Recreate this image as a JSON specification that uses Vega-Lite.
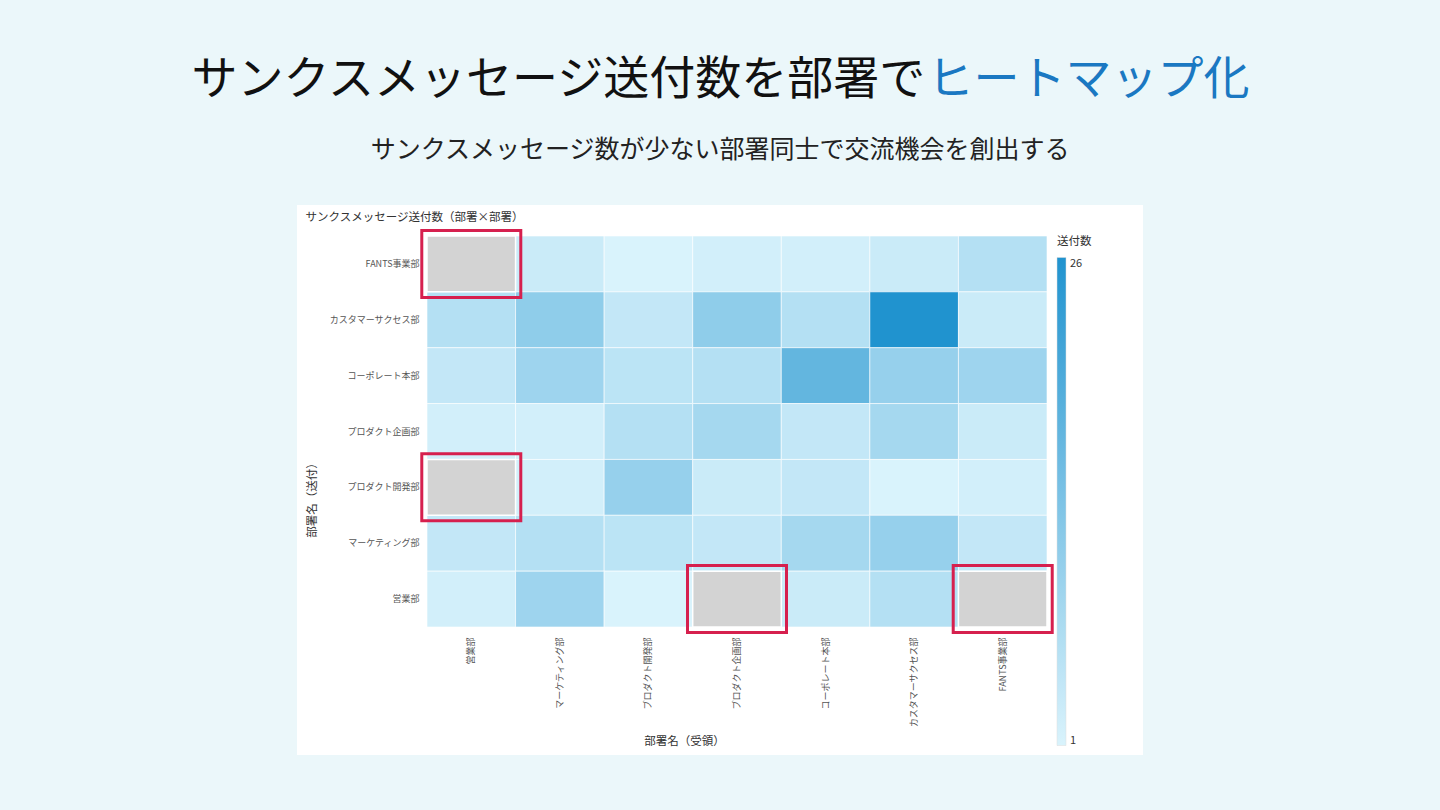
{
  "$schema": "https://vega.github.io/schema/vega-lite/v6.json",
  "width": 846,
  "height": 550,
  "autosize": "none",
  "padding": {"left": 297, "top": 205, "right": 297, "bottom": 55},
  "background": "#ebf7fa",
  "view": {"fill": "#ffffff", "stroke": null},
  "title": {
    "text": "サンクスメッセージ数が少ない部署同士で交流機会を創出する",
    "anchor": "middle",
    "frame": "group",
    "font": "Noto Sans CJK JP",
    "fontSize": 25,
    "fontWeight": "normal",
    "color": "#222222",
    "offset": -107
  },
  "data": {
    "values": [
      {"sender": "FANTS事業部", "receiver": "営業部", "count": null},
      {"sender": "FANTS事業部", "receiver": "マーケティング部", "count": 3},
      {"sender": "FANTS事業部", "receiver": "プロダクト開発部", "count": 1},
      {"sender": "FANTS事業部", "receiver": "プロダクト企画部", "count": 2},
      {"sender": "FANTS事業部", "receiver": "コーポレート本部", "count": 2},
      {"sender": "FANTS事業部", "receiver": "カスタマーサクセス部", "count": 3},
      {"sender": "FANTS事業部", "receiver": "FANTS事業部", "count": 6},
      {"sender": "カスタマーサクセス部", "receiver": "営業部", "count": 6},
      {"sender": "カスタマーサクセス部", "receiver": "マーケティング部", "count": 11},
      {"sender": "カスタマーサクセス部", "receiver": "プロダクト開発部", "count": 4},
      {"sender": "カスタマーサクセス部", "receiver": "プロダクト企画部", "count": 11},
      {"sender": "カスタマーサクセス部", "receiver": "コーポレート本部", "count": 6},
      {"sender": "カスタマーサクセス部", "receiver": "カスタマーサクセス部", "count": 26},
      {"sender": "カスタマーサクセス部", "receiver": "FANTS事業部", "count": 3},
      {"sender": "コーポレート本部", "receiver": "営業部", "count": 4},
      {"sender": "コーポレート本部", "receiver": "マーケティング部", "count": 9},
      {"sender": "コーポレート本部", "receiver": "プロダクト開発部", "count": 5},
      {"sender": "コーポレート本部", "receiver": "プロダクト企画部", "count": 6},
      {"sender": "コーポレート本部", "receiver": "コーポレート本部", "count": 17},
      {"sender": "コーポレート本部", "receiver": "カスタマーサクセス部", "count": 10},
      {"sender": "コーポレート本部", "receiver": "FANTS事業部", "count": 9},
      {"sender": "プロダクト企画部", "receiver": "営業部", "count": 2},
      {"sender": "プロダクト企画部", "receiver": "マーケティング部", "count": 2},
      {"sender": "プロダクト企画部", "receiver": "プロダクト開発部", "count": 6},
      {"sender": "プロダクト企画部", "receiver": "プロダクト企画部", "count": 8},
      {"sender": "プロダクト企画部", "receiver": "コーポレート本部", "count": 4},
      {"sender": "プロダクト企画部", "receiver": "カスタマーサクセス部", "count": 8},
      {"sender": "プロダクト企画部", "receiver": "FANTS事業部", "count": 3},
      {"sender": "プロダクト開発部", "receiver": "営業部", "count": null},
      {"sender": "プロダクト開発部", "receiver": "マーケティング部", "count": 2},
      {"sender": "プロダクト開発部", "receiver": "プロダクト開発部", "count": 10},
      {"sender": "プロダクト開発部", "receiver": "プロダクト企画部", "count": 3},
      {"sender": "プロダクト開発部", "receiver": "コーポレート本部", "count": 4},
      {"sender": "プロダクト開発部", "receiver": "カスタマーサクセス部", "count": 1},
      {"sender": "プロダクト開発部", "receiver": "FANTS事業部", "count": 2},
      {"sender": "マーケティング部", "receiver": "営業部", "count": 4},
      {"sender": "マーケティング部", "receiver": "マーケティング部", "count": 6},
      {"sender": "マーケティング部", "receiver": "プロダクト開発部", "count": 5},
      {"sender": "マーケティング部", "receiver": "プロダクト企画部", "count": 4},
      {"sender": "マーケティング部", "receiver": "コーポレート本部", "count": 8},
      {"sender": "マーケティング部", "receiver": "カスタマーサクセス部", "count": 10},
      {"sender": "マーケティング部", "receiver": "FANTS事業部", "count": 4},
      {"sender": "営業部", "receiver": "営業部", "count": 2},
      {"sender": "営業部", "receiver": "マーケティング部", "count": 9},
      {"sender": "営業部", "receiver": "プロダクト開発部", "count": 1},
      {"sender": "営業部", "receiver": "プロダクト企画部", "count": null},
      {"sender": "営業部", "receiver": "コーポレート本部", "count": 3},
      {"sender": "営業部", "receiver": "カスタマーサクセス部", "count": 6},
      {"sender": "営業部", "receiver": "FANTS事業部", "count": null}
    ]
  },
  "layer": [
    {
      "transform": [{"filter": "isValid(datum.count)"}],
      "mark": {"type": "rect", "stroke": "#ffffff", "strokeWidth": 1, "strokeOpacity": 0.6},
      "encoding": {
        "x": {
          "field": "receiver", "type": "nominal",
          "sort": ["営業部", "マーケティング部", "プロダクト開発部", "プロダクト企画部", "コーポレート本部", "カスタマーサクセス部", "FANTS事業部"],
          "scale": {"range": [130, 750], "paddingInner": 0, "paddingOuter": 0},
          "axis": {
            "orient": "bottom", "offset": -128, "domain": false, "ticks": false, "tickSize": 0, "grid": false,
            "labelAngle": -90, "labelFontSize": 9, "labelPadding": 10, "labelColor": "#555555",
            "title": "部署名（受領）", "titleX": 387, "titleY": 114, "titleAlign": "center", "titleBaseline": "middle",
            "titleFontSize": 11.5, "titleFontWeight": "normal", "titleColor": "#333333"
          }
        },
        "y": {
          "field": "sender", "type": "nominal",
          "sort": ["FANTS事業部", "カスタマーサクセス部", "コーポレート本部", "プロダクト企画部", "プロダクト開発部", "マーケティング部", "営業部"],
          "scale": {"range": [31, 422], "paddingInner": 0, "paddingOuter": 0},
          "axis": {
            "orient": "left", "offset": -130, "domain": false, "ticks": false, "tickSize": 0, "grid": false,
            "labelFontSize": 9, "labelPadding": 8, "labelColor": "#555555",
            "title": "部署名（送付）", "titleX": -115, "titleY": 292, "titleAngle": -90, "titleAlign": "center", "titleBaseline": "middle",
            "titleFontSize": 11.5, "titleFontWeight": "normal", "titleColor": "#333333"
          }
        },
        "color": {
          "field": "count", "type": "quantitative",
          "scale": {"domain": [1, 26], "range": ["#d9f3fc", "#2093cf"], "interpolate": "rgb"},
          "legend": {
            "orient": "none", "legendX": 760, "legendY": 31, "direction": "vertical",
            "title": "送付数", "titleFontSize": 11.5, "titleFontWeight": "normal", "titleColor": "#333333", "titlePadding": 10,
            "gradientLength": 488, "gradientThickness": 9, "gradientStrokeColor": "#dddddd", "gradientStrokeWidth": 0.5,
            "values": [1, 26], "labelFontSize": 11, "labelColor": "#333333", "labelOffset": 4
          }
        }
      }
    },
    {
      "transform": [{"filter": "!isValid(datum.count)"}],
      "mark": {"type": "rect", "color": "#d3d3d3", "stroke": "#ffffff", "strokeWidth": 1.5},
      "encoding": {
        "x": {
          "field": "receiver", "type": "nominal",
          "sort": ["営業部", "マーケティング部", "プロダクト開発部", "プロダクト企画部", "コーポレート本部", "カスタマーサクセス部", "FANTS事業部"],
          "axis": {
            "orient": "top", "labels": false, "domain": false, "ticks": false, "grid": false,
            "title": "サンクスメッセージ送付数（部署×部署）", "titleX": 8, "titleY": 12, "titleAlign": "left", "titleBaseline": "middle",
            "titleFontSize": 11.5, "titleFontWeight": "normal", "titleColor": "#333333"
          }
        },
        "y": {
          "field": "sender", "type": "nominal",
          "sort": ["FANTS事業部", "カスタマーサクセス部", "コーポレート本部", "プロダクト企画部", "プロダクト開発部", "マーケティング部", "営業部"],
          "axis": {
            "orient": "right", "labels": false, "domain": false, "ticks": false, "grid": false,
            "title": "ヒートマップ化", "titleAngle": 0, "titleX": -216, "titleY": -148, "titleAlign": "left", "titleBaseline": "top",
            "titleFont": "Noto Sans CJK JP", "titleFontSize": 46, "titleFontWeight": "normal", "titleColor": "#1a78c2"
          }
        }
      }
    },
    {
      "transform": [{"filter": "!isValid(datum.count)"}],
      "mark": {"type": "point", "shape": "M-1,-0.677H1V0.677H-1Z", "size": 9801, "filled": false, "stroke": "#d6204e", "strokeWidth": 3, "opacity": 1},
      "encoding": {
        "x": {"field": "receiver", "type": "nominal",
          "sort": ["営業部", "マーケティング部", "プロダクト開発部", "プロダクト企画部", "コーポレート本部", "カスタマーサクセス部", "FANTS事業部"],
          "axis": {
            "orient": "top", "labels": false, "domain": false, "ticks": false, "grid": false,
            "title": "サンクスメッセージ送付数を部署で", "titleAngle": 0, "titleX": -106, "titleY": -148, "titleAlign": "left", "titleBaseline": "top",
            "titleFont": "Noto Sans CJK JP", "titleFontSize": 46, "titleFontWeight": "normal", "titleColor": "#111111"
          }},
        "y": {"field": "sender", "type": "nominal", "axis": null,
          "sort": ["FANTS事業部", "カスタマーサクセス部", "コーポレート本部", "プロダクト企画部", "プロダクト開発部", "マーケティング部", "営業部"]}
      }
    }
  ],
  "resolve": {"axis": {"x": "independent", "y": "independent"}},
  "config": {
    "font": "Noto Sans CJK JP",
    "axis": {"labelFont": "Noto Sans CJK JP", "titleFont": "Noto Sans CJK JP"},
    "legend": {"labelFont": "Noto Sans CJK JP", "titleFont": "Noto Sans CJK JP"}
  }
}
